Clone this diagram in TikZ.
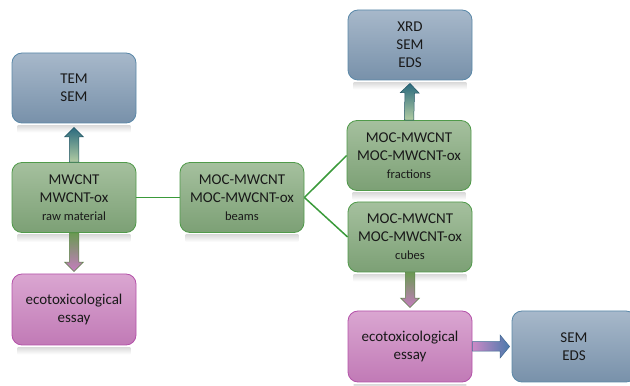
\documentclass[tikz,border=0pt]{standalone}
\usepackage{fontspec}
\setmainfont{Carlito}
\usetikzlibrary{calc}
\definecolor{bluetop}{HTML}{A7B8CA}
\definecolor{bluebot}{HTML}{7891AA}
\definecolor{blueline}{HTML}{5A88A8}
\definecolor{greentop}{HTML}{A5C09E}
\definecolor{greenbot}{HTML}{7CA075}
\definecolor{greenline}{HTML}{509A4A}
\definecolor{pinktop}{HTML}{DAA6D1}
\definecolor{pinkbot}{HTML}{C17AB6}
\definecolor{pinkline}{HTML}{B452A9}
\definecolor{linkcol}{HTML}{3A9A3A}
\definecolor{tealhead}{HTML}{2A6A7E}
\definecolor{lightgreen}{HTML}{B2CCA2}
\definecolor{arrowgreen}{HTML}{6A9A52}
\definecolor{arrowpink}{HTML}{C67CC0}
\definecolor{arrowblue}{HTML}{4A7AAC}
\newcommand{\smalltxt}[1]{{\fontsize{12.5}{18}\selectfont #1}}
% block arrow: shading, start, tip, half head width
\newcommand{\fatarrow}[4]{%
	\coordinate (hb) at ($(#3)!9.5pt!(#2)$);
	\shadedraw[#1] ($(#2)!4.75pt!90:(#3)$) -- ($(hb)!4.75pt!-90:(#2)$) -- ($(hb)!#4!-90:(#2)$) -- (#3) -- ($(hb)!#4!90:(#2)$) -- ($(hb)!4.75pt!90:(#2)$) -- ($(#2)!4.75pt!-90:(#3)$) -- cycle;}
\begin{document}
\begin{tikzpicture}[x=1pt, y=1pt,
	box/.style={rounded corners=10pt, minimum width=124pt, minimum height=70pt, inner sep=0pt, align=center, line width=0.8pt, text=black!90, font=\fontsize{15}{18}\selectfont},
	bluebox/.style={box, draw=blueline, top color=bluetop, bottom color=bluebot},
	greenbox/.style={box, draw=greenline, top color=greentop, bottom color=greenbot},
	pinkbox/.style={box, draw=pinkline, top color=pinktop, bottom color=pinkbot, minimum height=71pt},
	toblue/.style={bottom color=lightgreen, top color=tealhead, draw=tealhead!80!black, line width=0.5pt},
	topink/.style={top color=arrowgreen, bottom color=arrowpink, draw=arrowgreen!85!black, line width=0.5pt}]
	\clip (0,0) rectangle (630,386);
	\node (A)[bluebox] at (74,298) {TEM\\SEM};
	\node (B)[greenbox] at (74,188.5) {MWCNT\\MWCNT-ox\\\smalltxt{raw material}};
	\node (C)[greenbox] at (242,188.5) {MOC-MWCNT\\MOC-MWCNT-ox\\\smalltxt{beams}};
	\node (D)[greenbox] at (409,230.5) {MOC-MWCNT\\MOC-MWCNT-ox\\\smalltxt{fractions}};
	\node (E)[bluebox] at (410,341) {XRD\\SEM\\EDS};
	\node (F)[greenbox] at (410,149) {MOC-MWCNT\\MOC-MWCNT-ox\\\smalltxt{cubes}};
	\node (G)[pinkbox] at (74,76.5) {ecotoxicological\\essay};
	\node (H)[pinkbox] at (410,39.5) {ecotoxicological\\essay};
	\node (I)[bluebox, minimum height=71pt] at (574,39.5) {SEM\\EDS};
	% faint reflections
	\foreach \x in {A,B,C,D,E,F,G,H}
	{
		\shade[top color=black!14, bottom color=white] ($(\x.south west)+(6,-2)$) rectangle ($(\x.south east)+(-6,-9)$);
	}
	\draw[linkcol, line width=1.5pt](B.east)--(C.west);
	\foreach \x in {D,F}
	{
		\draw[linkcol, line width=1.5pt](C.east)--(\x.west);
	}
	\coordinate (tA) at ($(A.south)+(0,-4)$);
	\coordinate (tG) at ($(G.north)+(0,2)$);
	\coordinate (tE) at ($(E.south)+(0,-3)$);
	\coordinate (tH) at ($(H.north)+(0,3)$);
	\coordinate (tI) at ($(I.west)+(-2,0)$);
	\fatarrow{toblue}{B.north}{tA}{9.5pt}
	\fatarrow{topink}{B.south}{tG}{9.5pt}
	\fatarrow{toblue}{D.north}{tE}{9.5pt}
	\fatarrow{topink}{F.south}{tH}{9.5pt}
	\fatarrow{left color=arrowpink!90!white, right color=arrowblue, draw=arrowblue!85!black, line width=0.5pt}{H.east}{tI}{11.5pt}
\end{tikzpicture}
\end{document}
